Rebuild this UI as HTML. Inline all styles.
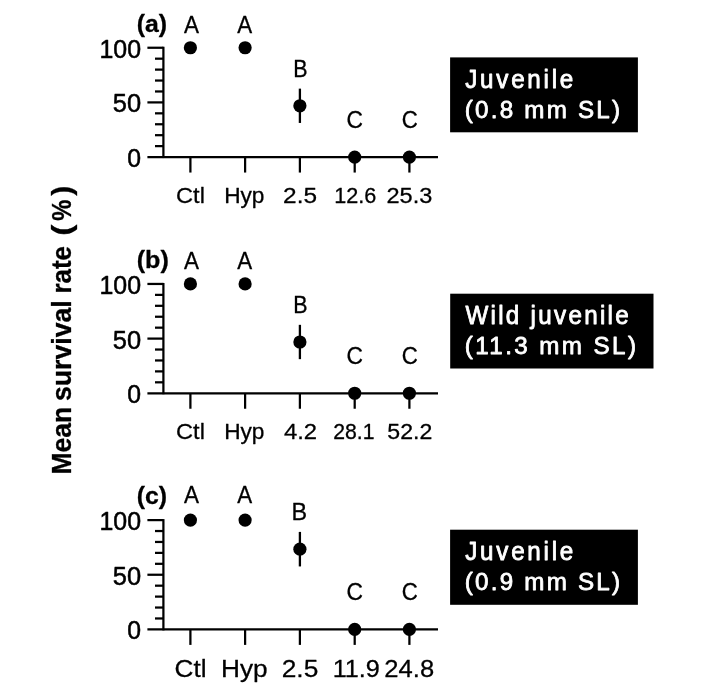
<!DOCTYPE html>
<html><head><meta charset="utf-8"><title>Mean survival rate</title>
<style>
html,body{margin:0;padding:0;background:#fff;}
svg{display:block}
text{font-family:"Liberation Sans",Arial,sans-serif;fill:#000;stroke:#000;stroke-linejoin:round}
.b{font-weight:bold}
.w{fill:#fff;stroke:#fff}
line{stroke:#000;stroke-width:2.25}
</style></head><body>
<svg width="702" height="695" viewBox="0 0 702 695">
<rect width="702" height="695" fill="#fff"/>

<text class="b" font-size="27.2" stroke-width="0.3" transform="translate(71.00,473.10) rotate(-90) translate(-1.51,0) scale(0.9773,1.02)">Mean</text>
<text class="b" font-size="27.2" stroke-width="0.3" transform="translate(71.00,400.30) rotate(-90) translate(-0.68,0) scale(0.9794,1.02)">survival</text>
<text class="b" font-size="27.2" stroke-width="0.3" transform="translate(71.00,292.10) rotate(-90) translate(-1.47,0) scale(0.9554,1.02)">rate</text>
<text class="b" font-size="27.2" stroke-width="0.3" transform="translate(71.00,234.30) rotate(-90) translate(-1.43,0) scale(1.2384,1.02)">(</text>
<text class="b" font-size="27.2" stroke-width="0.3" transform="translate(71.00,220.50) rotate(-90) translate(-0.22,0) scale(0.8727,1.02)">%</text>
<text class="b" font-size="27.2" stroke-width="0.3" transform="translate(71.00,195.90) rotate(-90) translate(0.15,0) scale(1.1146,1.02)">)</text>
<g>
<line x1="163.4" y1="46.75" x2="163.4" y2="158.05"/>
<line x1="147.4" y1="157.05" x2="438" y2="157.05"/>
<line x1="155.0" y1="146.12" x2="163.4" y2="146.12"/>
<line x1="155.0" y1="135.19" x2="163.4" y2="135.19"/>
<line x1="155.0" y1="124.26" x2="163.4" y2="124.26"/>
<line x1="155.0" y1="113.33" x2="163.4" y2="113.33"/>
<line x1="147.4" y1="102.40" x2="163.4" y2="102.40"/>
<line x1="155.0" y1="91.47" x2="163.4" y2="91.47"/>
<line x1="155.0" y1="80.54" x2="163.4" y2="80.54"/>
<line x1="155.0" y1="69.61" x2="163.4" y2="69.61"/>
<line x1="155.0" y1="58.68" x2="163.4" y2="58.68"/>
<line x1="147.4" y1="47.75" x2="163.4" y2="47.75"/>
<text class="y" font-size="25.5" transform="translate(99.49,57.65) scale(0.9773,1.03)" stroke-width="0.512">100</text>
<text class="y" font-size="25.5" transform="translate(112.75,112.30) scale(0.9988,1.03)" stroke-width="0.501">50</text>
<text class="y" font-size="25.5" transform="translate(127.28,166.95) scale(0.9725,1.03)" stroke-width="0.514">0</text>
<line x1="190.4" y1="157.05" x2="190.4" y2="172.55"/>
<text class="x" font-size="22.3" transform="translate(176.04,202.80) scale(1.0591,1)" stroke-width="0.283">Ctl</text>
<circle cx="190.4" cy="47.75" r="6.6" fill="#000"/>
<text class="l" font-size="23.5" transform="translate(183.95,33.20) scale(0.9564,1)" stroke-width="0.314">A</text>
<line x1="245.1" y1="157.05" x2="245.1" y2="172.55"/>
<text class="x" font-size="22.3" transform="translate(224.18,202.80) scale(1.0159,1)" stroke-width="0.295">Hyp</text>
<circle cx="245.1" cy="47.75" r="6.6" fill="#000"/>
<text class="l" font-size="23.5" transform="translate(237.15,33.20) scale(0.9500,1)" stroke-width="0.316">A</text>
<line x1="299.9" y1="157.05" x2="299.9" y2="172.55"/>
<text class="x" font-size="22.3" transform="translate(283.11,202.80) scale(1.0946,1)" stroke-width="0.274">2.5</text>
<line x1="299.9" y1="88.63" x2="299.9" y2="122.95" style="stroke-width:2.3"/>
<circle cx="299.9" cy="105.79" r="6.6" fill="#000"/>
<text class="l" font-size="23.5" transform="translate(293.18,77.40) scale(0.9104,1)" stroke-width="0.330">B</text>
<line x1="354.7" y1="157.05" x2="354.7" y2="172.55"/>
<text class="x" font-size="22.3" transform="translate(334.20,202.80) scale(0.9707,1)" stroke-width="0.309">12.6</text>
<circle cx="354.7" cy="157.05" r="6.6" fill="#000"/>
<text class="l" font-size="23.5" transform="translate(346.58,128.30) scale(0.9698,1)" stroke-width="0.309">C</text>
<line x1="409.4" y1="157.05" x2="409.4" y2="172.55"/>
<text class="x" font-size="22.3" transform="translate(386.45,202.80) scale(1.0566,1)" stroke-width="0.284">25.3</text>
<circle cx="409.4" cy="157.05" r="6.6" fill="#000"/>
<text class="l" font-size="23.5" transform="translate(401.81,128.30) scale(0.9432,1)" stroke-width="0.318">C</text>
<text class="b" font-size="24.2" transform="translate(136.69,32.05) scale(1.0266,1)" stroke-width="0.292">(a)</text>
<rect x="450.1" y="57.4" width="187.8" height="74.9" fill="#000"/>
<text class="w" font-size="24.2" stroke-width="0.8" letter-spacing="2.767" transform="translate(465.22,87.90) scale(1,1.04)">Juvenile</text>
<text class="w" font-size="24.2" stroke-width="0.8" letter-spacing="2.216" transform="translate(464.77,117.80) scale(1,0.955)">(0.8 mm SL)</text>
</g>
<g>
<line x1="163.4" y1="282.95" x2="163.4" y2="394.25"/>
<line x1="147.4" y1="393.25" x2="438" y2="393.25"/>
<line x1="155.0" y1="382.32" x2="163.4" y2="382.32"/>
<line x1="155.0" y1="371.39" x2="163.4" y2="371.39"/>
<line x1="155.0" y1="360.46" x2="163.4" y2="360.46"/>
<line x1="155.0" y1="349.53" x2="163.4" y2="349.53"/>
<line x1="147.4" y1="338.60" x2="163.4" y2="338.60"/>
<line x1="155.0" y1="327.67" x2="163.4" y2="327.67"/>
<line x1="155.0" y1="316.74" x2="163.4" y2="316.74"/>
<line x1="155.0" y1="305.81" x2="163.4" y2="305.81"/>
<line x1="155.0" y1="294.88" x2="163.4" y2="294.88"/>
<line x1="147.4" y1="283.95" x2="163.4" y2="283.95"/>
<text class="y" font-size="25.5" transform="translate(99.49,293.85) scale(0.9773,1.03)" stroke-width="0.512">100</text>
<text class="y" font-size="25.5" transform="translate(112.75,348.50) scale(0.9988,1.03)" stroke-width="0.501">50</text>
<text class="y" font-size="25.5" transform="translate(127.28,403.15) scale(0.9725,1.03)" stroke-width="0.514">0</text>
<line x1="190.4" y1="393.25" x2="190.4" y2="408.75"/>
<text class="x" font-size="22.3" transform="translate(176.04,439.30) scale(1.0591,1)" stroke-width="0.283">Ctl</text>
<circle cx="190.4" cy="283.95" r="6.6" fill="#000"/>
<text class="l" font-size="23.5" transform="translate(183.95,268.50) scale(0.9564,1)" stroke-width="0.314">A</text>
<line x1="245.1" y1="393.25" x2="245.1" y2="408.75"/>
<text class="x" font-size="22.3" transform="translate(224.18,439.30) scale(1.0159,1)" stroke-width="0.295">Hyp</text>
<circle cx="245.1" cy="283.95" r="6.6" fill="#000"/>
<text class="l" font-size="23.5" transform="translate(237.15,268.50) scale(0.9500,1)" stroke-width="0.316">A</text>
<line x1="299.9" y1="393.25" x2="299.9" y2="408.75"/>
<text class="x" font-size="22.3" transform="translate(283.88,439.30) scale(1.0690,1)" stroke-width="0.281">4.2</text>
<line x1="299.9" y1="324.83" x2="299.9" y2="359.15" style="stroke-width:2.3"/>
<circle cx="299.9" cy="341.99" r="6.6" fill="#000"/>
<text class="l" font-size="23.5" transform="translate(293.18,313.40) scale(0.9104,1)" stroke-width="0.330">B</text>
<line x1="354.7" y1="393.25" x2="354.7" y2="408.75"/>
<text class="x" font-size="22.3" transform="translate(333.26,439.30) scale(0.9505,1)" stroke-width="0.316">28.1</text>
<circle cx="354.7" cy="393.25" r="6.6" fill="#000"/>
<text class="l" font-size="23.5" transform="translate(346.58,364.40) scale(0.9698,1)" stroke-width="0.309">C</text>
<line x1="409.4" y1="393.25" x2="409.4" y2="408.75"/>
<text class="x" font-size="22.3" transform="translate(387.33,439.30) scale(1.0358,1)" stroke-width="0.290">52.2</text>
<circle cx="409.4" cy="393.25" r="6.6" fill="#000"/>
<text class="l" font-size="23.5" transform="translate(401.81,364.40) scale(0.9432,1)" stroke-width="0.318">C</text>
<text class="b" font-size="24.2" transform="translate(136.67,268.25) scale(1.0384,1)" stroke-width="0.289">(b)</text>
<rect x="450.2" y="293.7" width="203.3" height="74.8" fill="#000"/>
<text class="w" font-size="24.2" stroke-width="0.8" letter-spacing="2.295" transform="translate(465.40,324.20) scale(1,1.04)">Wild juvenile</text>
<text class="w" font-size="24.2" stroke-width="0.8" letter-spacing="2.409" transform="translate(464.77,354.10) scale(1,0.955)">(11.3 mm SL)</text>
</g>
<g>
<line x1="163.4" y1="519.10" x2="163.4" y2="630.40"/>
<line x1="147.4" y1="629.4" x2="438" y2="629.4"/>
<line x1="155.0" y1="618.47" x2="163.4" y2="618.47"/>
<line x1="155.0" y1="607.54" x2="163.4" y2="607.54"/>
<line x1="155.0" y1="596.61" x2="163.4" y2="596.61"/>
<line x1="155.0" y1="585.68" x2="163.4" y2="585.68"/>
<line x1="147.4" y1="574.75" x2="163.4" y2="574.75"/>
<line x1="155.0" y1="563.82" x2="163.4" y2="563.82"/>
<line x1="155.0" y1="552.89" x2="163.4" y2="552.89"/>
<line x1="155.0" y1="541.96" x2="163.4" y2="541.96"/>
<line x1="155.0" y1="531.03" x2="163.4" y2="531.03"/>
<line x1="147.4" y1="520.10" x2="163.4" y2="520.10"/>
<text class="y" font-size="25.5" transform="translate(99.49,530.00) scale(0.9773,1.03)" stroke-width="0.512">100</text>
<text class="y" font-size="25.5" transform="translate(112.75,584.65) scale(0.9988,1.03)" stroke-width="0.501">50</text>
<text class="y" font-size="25.5" transform="translate(127.28,639.30) scale(0.9725,1.03)" stroke-width="0.514">0</text>
<line x1="190.4" y1="629.4" x2="190.4" y2="644.90"/>
<text class="x" font-size="24.5" transform="translate(174.52,677.40) scale(1.0670,1)" stroke-width="0.281">Ctl</text>
<circle cx="190.4" cy="520.10" r="6.6" fill="#000"/>
<text class="l" font-size="23.5" transform="translate(183.95,503.10) scale(0.9564,1)" stroke-width="0.314">A</text>
<line x1="245.1" y1="629.4" x2="245.1" y2="644.90"/>
<text class="x" font-size="24.5" transform="translate(221.00,677.40) scale(1.0698,1)" stroke-width="0.280">Hyp</text>
<circle cx="245.1" cy="520.10" r="6.6" fill="#000"/>
<text class="l" font-size="23.5" transform="translate(237.15,503.10) scale(0.9500,1)" stroke-width="0.316">A</text>
<line x1="299.9" y1="629.4" x2="299.9" y2="644.90"/>
<text class="x" font-size="24.5" transform="translate(281.72,677.40) scale(1.0747,1)" stroke-width="0.279">2.5</text>
<line x1="299.9" y1="531.90" x2="299.9" y2="566.44" style="stroke-width:2.3"/>
<circle cx="299.9" cy="549.17" r="6.6" fill="#000"/>
<text class="l" font-size="23.5" transform="translate(291.52,519.90) scale(0.9960,1)" stroke-width="0.301">B</text>
<line x1="354.7" y1="629.4" x2="354.7" y2="644.90"/>
<text class="x" font-size="24.5" transform="translate(332.67,677.40) scale(1.0290,1)" stroke-width="0.292">11.9</text>
<circle cx="354.7" cy="629.40" r="6.6" fill="#000"/>
<text class="l" font-size="23.5" transform="translate(346.58,600.30) scale(0.9698,1)" stroke-width="0.309">C</text>
<line x1="409.4" y1="629.4" x2="409.4" y2="644.90"/>
<text class="x" font-size="24.5" transform="translate(384.35,677.40) scale(1.0452,1)" stroke-width="0.287">24.8</text>
<circle cx="409.4" cy="629.40" r="6.6" fill="#000"/>
<text class="l" font-size="23.5" transform="translate(401.81,600.30) scale(0.9432,1)" stroke-width="0.318">C</text>
<text class="b" font-size="24.2" transform="translate(136.69,504.40) scale(1.0266,1)" stroke-width="0.292">(c)</text>
<rect x="450.1" y="529.7" width="187.8" height="75.1" fill="#000"/>
<text class="w" font-size="24.2" stroke-width="0.8" letter-spacing="2.767" transform="translate(465.22,560.20) scale(1,1.04)">Juvenile</text>
<text class="w" font-size="24.2" stroke-width="0.8" letter-spacing="2.216" transform="translate(464.77,590.10) scale(1,0.955)">(0.9 mm SL)</text>
</g>
</svg></body></html>
